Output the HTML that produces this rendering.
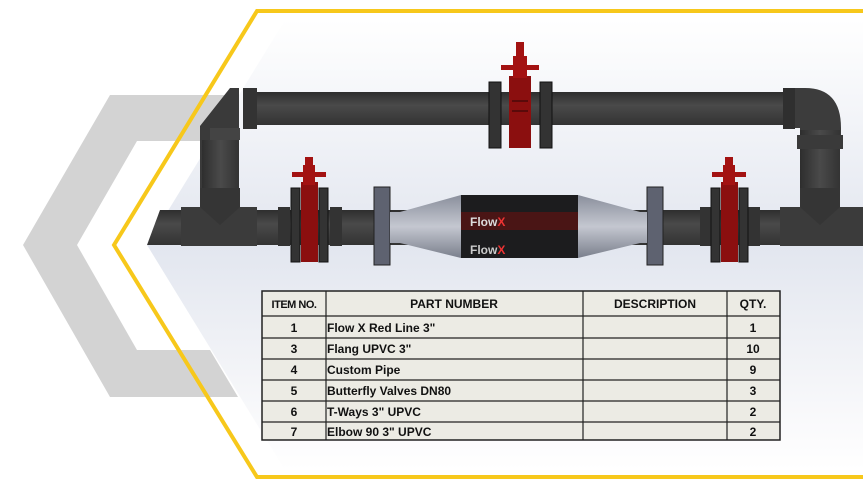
<!DOCTYPE html>
<html><head><meta charset="utf-8"><style>
html,body{margin:0;padding:0;background:#fff;width:863px;height:489px;overflow:hidden}
svg{display:block}
text{font-family:"Liberation Sans",sans-serif;font-weight:bold;fill:#111}
</style></head><body>
<svg width="863" height="489" viewBox="0 0 863 489" xmlns="http://www.w3.org/2000/svg">
<defs>
<linearGradient id="bg" x1="0" y1="0" x2="0" y2="1">
<stop offset="0" stop-color="#fff"/><stop offset="0.5" stop-color="#e2e6ef"/><stop offset="0.8" stop-color="#f4f5f8"/><stop offset="1" stop-color="#fff"/></linearGradient>
<linearGradient id="pv" x1="0" y1="0" x2="0" y2="1">
<stop offset="0" stop-color="#2e2e2e"/><stop offset="0.4" stop-color="#4a4a4a"/><stop offset="1" stop-color="#333"/></linearGradient>
<linearGradient id="ph" x1="0" y1="0" x2="1" y2="0">
<stop offset="0" stop-color="#2e2e2e"/><stop offset="0.5" stop-color="#4a4a4a"/><stop offset="1" stop-color="#333"/></linearGradient>
<linearGradient id="fx" x1="0" y1="0" x2="0" y2="1">
<stop offset="0" stop-color="#8a8f9c"/><stop offset="0.5" stop-color="#c4c7d0"/><stop offset="1" stop-color="#7a7f8c"/></linearGradient>
</defs>
<!-- gray chevron -->
<polygon points="110,95 238,95 238,141 137,141 77,245 137,350 210,350 238,397 110,397 23,245" fill="#d3d3d3"/>
<!-- gradient panel -->
<polygon points="147,245 285,20 863,20 863,470 285,470" fill="url(#bg)"/>
<!-- yellow hexagon -->
<polyline points="863,11 257,11 114,245 257,477 863,477" fill="none" stroke="#f7c81b" stroke-width="4"/>
<!-- top pipe -->
<rect x="255" y="92" width="530" height="33" fill="url(#pv)"/>
<rect x="243" y="88" width="14" height="41" fill="#333"/>
<path d="M785,88 h20 q36,0 36,40 v12 h-41 v-12 h-15 z" fill="#3c3c3c"/>
<rect x="783" y="88" width="12" height="41" fill="#2f2f2f"/>
<rect x="800" y="130" width="40" height="60" fill="url(#ph)"/>
<rect x="797" y="135" width="46" height="14" fill="#3a3a3a"/>
<!-- left elbow / vertical -->
<path d="M243,88 h-13 l-30,38 v64 h39 v-102 z" fill="#3a3a3a"/>
<rect x="210" y="128" width="30" height="12" fill="#444"/>
<rect x="202" y="140" width="37" height="50" fill="url(#ph)"/>
<!-- bottom pipe -->
<polygon points="147,245 160,210 863,210 863,245" fill="url(#pv)"/>
<rect x="181" y="207" width="76" height="39" fill="#3b3b3b"/>
<polygon points="200,188 240,188 240,207 220,225 200,207" fill="#353535"/>
<rect x="780" y="207" width="83" height="39" fill="#3b3b3b"/>
<polygon points="800,188 840,188 840,207 820,225 800,207" fill="#353535"/>
<rect x="278" y="207" width="12" height="39" fill="#333"/>
<rect x="330" y="207" width="12" height="39" fill="#333"/>
<rect x="700" y="207" width="12" height="39" fill="#333"/>
<rect x="748" y="207" width="12" height="39" fill="#333"/>
<!-- flowx -->
<rect x="374" y="187" width="16" height="78" fill="#5e6270" stroke="#222"/>
<rect x="647" y="187" width="16" height="78" fill="#5e6270" stroke="#222"/>
<polygon points="390,212 400,212 461,195 461,258 400,243 390,243" fill="url(#fx)"/>
<polygon points="647,212 640,212 578,195 578,258 640,243 647,243" fill="url(#fx)"/>
<rect x="461" y="195" width="117" height="63" fill="#1c1c1e"/>
<rect x="461" y="212" width="117" height="18" fill="#4a1515"/>
<text x="470" y="226" font-size="12" fill="#ddd" style="fill:#ddd">Flow<tspan style="fill:#e33">X</tspan></text>
<text x="470" y="254" font-size="12" style="fill:#ccc">Flow<tspan style="fill:#e33">X</tspan></text>
<!-- valves -->
<g id="v1">
<rect x="489" y="82" width="12" height="66" fill="#333" stroke="#111"/>
<rect x="540" y="82" width="12" height="66" fill="#333" stroke="#111"/>
<rect x="509" y="76" width="22" height="72" fill="#8b0f0f"/>
<rect x="513" y="56" width="14" height="22" fill="#a31212"/>
<rect x="501" y="65" width="38" height="5" fill="#a31212"/>
<rect x="516" y="42" width="8" height="14" fill="#a31212"/>
<rect x="512" y="100" width="16" height="2" fill="#5a0a0a"/>
<rect x="512" y="110" width="16" height="2" fill="#5a0a0a"/>
</g>
<g>
<rect x="291" y="188" width="9" height="74" fill="#333" stroke="#111"/>
<rect x="319" y="188" width="9" height="74" fill="#333" stroke="#111"/>
<rect x="301" y="182" width="17" height="80" fill="#8b0f0f"/>
<rect x="303" y="165" width="12" height="20" fill="#a31212"/>
<rect x="292" y="172" width="34" height="5" fill="#a31212"/>
<rect x="305" y="157" width="8" height="10" fill="#a31212"/>
</g>
<g>
<rect x="711" y="188" width="9" height="74" fill="#333" stroke="#111"/>
<rect x="739" y="188" width="9" height="74" fill="#333" stroke="#111"/>
<rect x="721" y="182" width="17" height="80" fill="#8b0f0f"/>
<rect x="723" y="165" width="12" height="20" fill="#a31212"/>
<rect x="712" y="172" width="34" height="5" fill="#a31212"/>
<rect x="725" y="157" width="8" height="10" fill="#a31212"/>
</g>
<!-- table -->
<rect x="262" y="291" width="518" height="149" fill="#ecebe4" stroke="#222" stroke-width="1.5"/>
<g stroke="#222" stroke-width="1.2">
<line x1="326" y1="291" x2="326" y2="440"/><line x1="583" y1="291" x2="583" y2="440"/><line x1="727" y1="291" x2="727" y2="440"/>
<line x1="262" y1="316" x2="780" y2="316"/><line x1="262" y1="338" x2="780" y2="338"/><line x1="262" y1="359" x2="780" y2="359"/>
<line x1="262" y1="380" x2="780" y2="380"/><line x1="262" y1="401" x2="780" y2="401"/><line x1="262" y1="422" x2="780" y2="422"/>
</g>
<g font-size="12">
<text x="294" y="308" text-anchor="middle" font-size="11" letter-spacing="-0.5">ITEM NO.</text>
<text x="454" y="308" text-anchor="middle">PART NUMBER</text>
<text x="655" y="308" text-anchor="middle">DESCRIPTION</text>
<text x="753" y="308" text-anchor="middle">QTY.</text>
<text x="294" y="332" text-anchor="middle">1</text><text x="327" y="332">Flow X Red Line 3"</text><text x="753" y="332" text-anchor="middle">1</text>
<text x="294" y="353" text-anchor="middle">3</text><text x="327" y="353">Flang UPVC 3"</text><text x="753" y="353" text-anchor="middle">10</text>
<text x="294" y="374" text-anchor="middle">4</text><text x="327" y="374">Custom Pipe</text><text x="753" y="374" text-anchor="middle">9</text>
<text x="294" y="395" text-anchor="middle">5</text><text x="327" y="395">Butterfly Valves DN80</text><text x="753" y="395" text-anchor="middle">3</text>
<text x="294" y="416" text-anchor="middle">6</text><text x="327" y="416">T-Ways 3" UPVC</text><text x="753" y="416" text-anchor="middle">2</text>
<text x="294" y="436" text-anchor="middle">7</text><text x="327" y="436">Elbow 90  3" UPVC</text><text x="753" y="436" text-anchor="middle">2</text>
</g>
</svg>
</body></html>
